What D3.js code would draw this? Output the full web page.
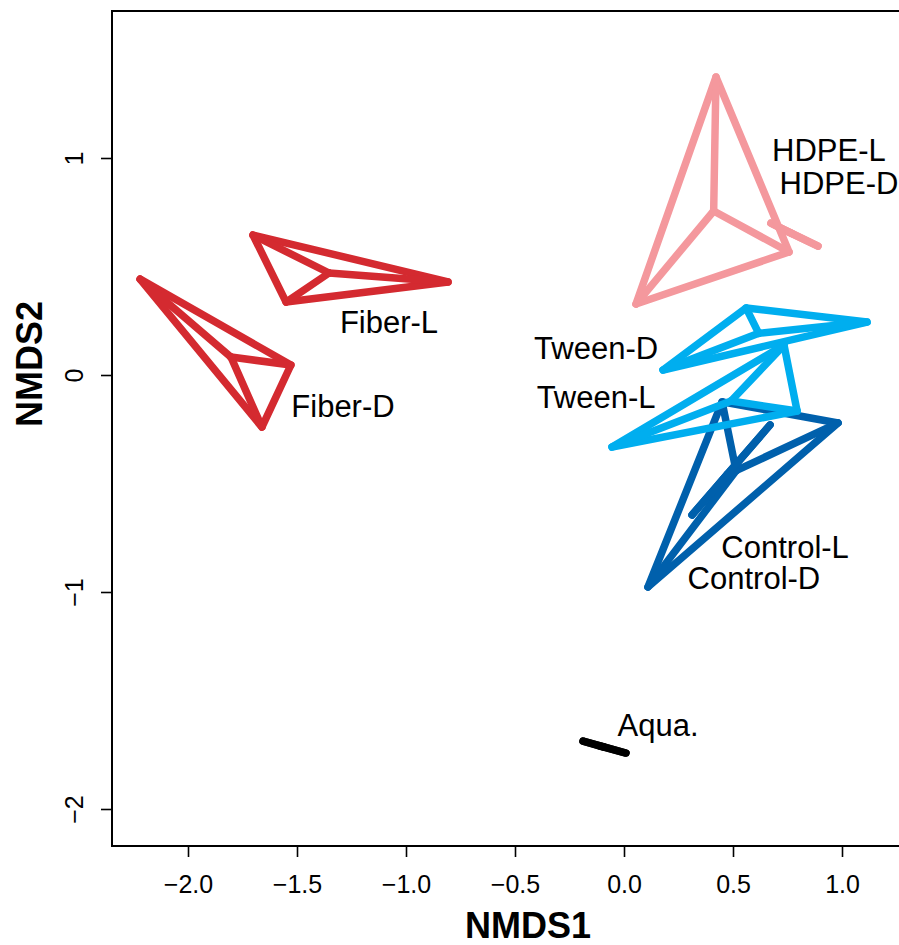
<!DOCTYPE html>
<html>
<head>
<meta charset="utf-8">
<script src="https://cdn.jsdelivr.net/npm/d3@7"></script>
<style>
  body { margin: 0; background: #fff; }
  svg { display: block; font-family: "Liberation Sans", Arial, Helvetica, sans-serif; }
</style>
</head>
<body>
<svg id="canvas" width="899" height="945"></svg>
<script>
"use strict"

// groups in the order R draws them
const groups = ["Aqua.", "Control-D", "Control-L", "Fiber-D", "Fiber-L", "HDPE-D", "HDPE-L", "Tween-D", "Tween-L"];
const groupColors = ["#000000", "#0060AC", "#0060AC", "#D42A30", "#D42A30", "#F4989D", "#F4989D", "#00AEEF", "#00AEEF"];

// site scores
const siteGroup = [
    "Aqua.", "Aqua.", "Aqua.",
    "Control-D", "Control-D", "Control-D",
    "Control-L", "Control-L", "Control-L",
    "Fiber-D", "Fiber-D", "Fiber-D",
    "Fiber-L", "Fiber-L", "Fiber-L",
    "HDPE-D", "HDPE-D", "HDPE-D",
    "HDPE-L", "HDPE-L", "HDPE-L",
    "Tween-D", "Tween-D", "Tween-D",
    "Tween-L", "Tween-L", "Tween-L"
];
const siteNMDS1 = [
    -0.188, 0.009, -0.110,
    0.450, 0.982, 0.110,
    0.312, 0.670, 0.440,
    -2.220, -1.528, -1.661,
    -1.702, -0.807, -1.550,
    0.674, 0.890, 0.743,
    0.422, 0.055, 0.757,
    0.560, 1.115, 0.179,
    0.734, 0.794, -0.055
];
const siteNMDS2 = [
    -1.687, -1.742, -1.710,
    -0.124, -0.221, -0.977,
    -0.645, -0.230, -0.498,
    0.442, 0.046, -0.240,
    0.645, 0.429, 0.336,
    0.700, 0.594, 0.664,
    1.373, 0.327, 0.567,
    0.309, 0.244, 0.023,
    0.138, -0.166, -0.332
];

// group label positions (data units)
const labelText = ["HDPE-L", "HDPE-D", "Fiber-L", "Fiber-D", "Tween-D", "Tween-L", "Control-L", "Control-D", "Aqua."];
const labelX = [0.940, 0.986, -1.078, -1.289, -0.128, -0.128, 0.739, 0.596, 0.156];
const labelY = [1.037, 0.885, 0.244, -0.143, 0.124, -0.101, -0.793, -0.935, -1.613];

const xTicks = [-2.0, -1.5, -1.0, -0.5, 0.0, 0.5, 1.0];
const yTicks = [-2, -1, 0, 1];

let drawing = d3.select("#canvas");

// plot box
let boxLeft = 112, boxTop = 11, boxBottom = 846, boxRight = 945;

let x = d3.scaleLinear().domain([-2, 1]).range([188, 842]);
let y = d3.scaleLinear().domain([-2, 1]).range([809, 158]);

/* hulls and spiders, one group at a time */
let plot = drawing.append("g");
groups.forEach(function (g, gi) {
    let pts = [];
    siteGroup.forEach(function (sg, i) {
        if (sg == g) pts.push([x(siteNMDS1[i]), y(siteNMDS2[i])]);
    });
    let col = groupColors[gi];

    // convex hull
    let hull = d3.polygonHull(pts);
    plot.append("path")
        .attr("d", "M" + hull.join("L") + "Z")
        .attr("fill", "none")
        .attr("stroke", col)
        .attr("stroke-width", 7.5)
        .attr("stroke-linejoin", "round");

    // spider from centroid
    let cx = d3.mean(pts, d => d[0]);
    let cy = d3.mean(pts, d => d[1]);
    pts.forEach(function (p) {
        plot.append("line")
            .attr("x1", cx).attr("y1", cy)
            .attr("x2", p[0]).attr("y2", p[1])
            .attr("stroke", col)
            .attr("stroke-width", 7.5)
            .attr("stroke-linecap", "round");
    });
});

/* labels */
labelText.forEach(function (t, i) {
    drawing.append("text")
        .attr("x", x(labelX[i]))
        .attr("y", y(labelY[i]))
        .attr("dy", "0.36em")
        .attr("text-anchor", "middle")
        .attr("font-size", 31)
        .attr("fill", "black")
        .text(t);
});

/* frame */
drawing.append("rect")
    .attr("x", boxLeft).attr("y", boxTop)
    .attr("width", boxRight - boxLeft).attr("height", boxBottom - boxTop)
    .attr("fill", "none")
    .attr("stroke", "black")
    .attr("stroke-width", 2);

/* x axis */
let xAxis = drawing.append("g")
    .attr("transform", "translate(0," + boxBottom + ")")
    .call(d3.axisBottom(x).tickValues(xTicks).tickFormat(d3.format(".1f")).tickSize(11));
xAxis.select(".domain").remove();
xAxis.selectAll("line").attr("stroke-width", 1.6);
xAxis.selectAll("text")
    .attr("y", 38)
    .attr("dy", "0.36em")
    .attr("font-size", 25)
    .attr("font-family", null)
    .attr("fill", "black");

/* y axis */
let yAxis = drawing.append("g")
    .attr("transform", "translate(" + boxLeft + ",0)")
    .call(d3.axisLeft(y).tickValues(yTicks).tickFormat(d3.format("d")).tickSize(11));
yAxis.select(".domain").remove();
yAxis.selectAll("line").attr("stroke-width", 1.6);
yAxis.selectAll("text")
    .attr("x", null).attr("dy", null)
    .attr("text-anchor", "middle")
    .attr("transform", "translate(-38,0) rotate(-90)")
    .attr("dy", "0.36em")
    .attr("font-size", 25)
    .attr("font-family", null)
    .attr("fill", "black");

/* axis titles */
drawing.append("text")
    .attr("x", 528).attr("y", 938)
    .attr("text-anchor", "middle")
    .attr("font-size", 36)
    .attr("font-weight", "bold")
    .text("NMDS1");

drawing.append("text")
    .attr("transform", "translate(42,364) rotate(-90)")
    .attr("text-anchor", "middle")
    .attr("font-size", 36)
    .attr("font-weight", "bold")
    .text("NMDS2");
</script>
</body>
</html>
